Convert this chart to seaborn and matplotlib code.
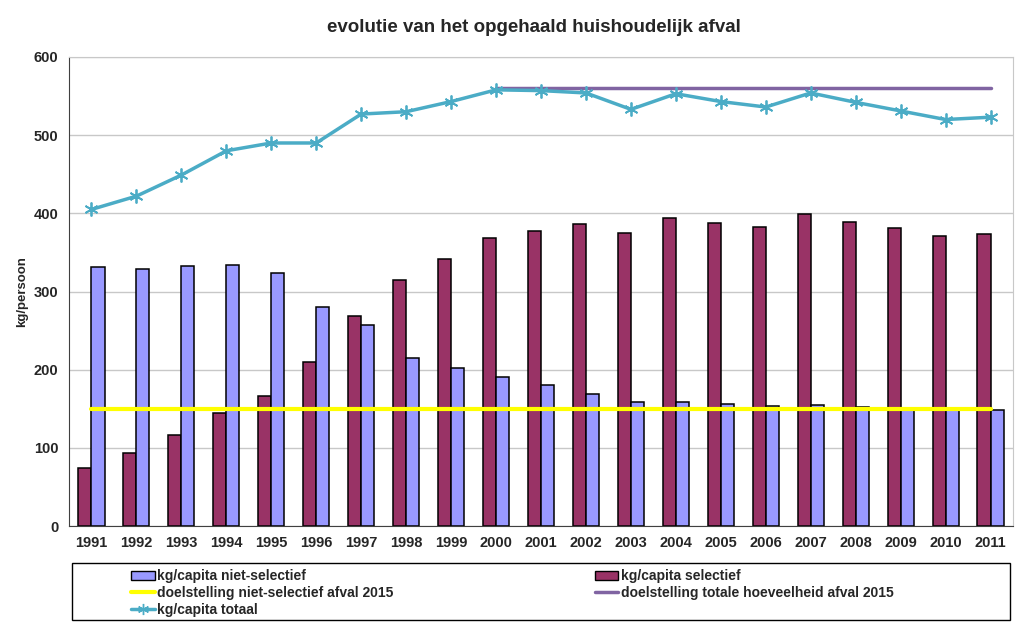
import numpy as np
import pandas as pd
import matplotlib
matplotlib.use("Agg")
import matplotlib.pyplot as plt
import seaborn as sns
from matplotlib.patches import Rectangle, Patch
from matplotlib.lines import Line2D

# waarden (kg per persoon)
jaren = ["1991", "1992", "1993", "1994", "1995", "1996", "1997", "1998", "1999", "2000", "2001",
         "2002", "2003", "2004", "2005", "2006", "2007", "2008", "2009", "2010", "2011"]
selectief = [74, 93, 116, 145, 166, 210, 269, 315, 341, 368, 377,
             386, 375, 394, 388, 383, 399, 389, 381, 371, 374]
niet_selectief = [331, 329, 333, 334, 324, 280, 257, 215, 202, 191, 180,
                  169, 159, 158, 156, 153, 155, 152, 149, 149, 149]
totaal = [405, 422, 449, 480, 490, 490, 527, 530, 543, 558, 557,
          554, 533, 553, 543, 536, 554, 542, 531, 520, 523]
doel_niet_selectief = [150] * len(jaren)
doel_totaal_jaren = ["2000", "2001", "2002", "2003", "2004", "2005",
                     "2006", "2007", "2008", "2009", "2010", "2011"]
doel_totaal = [560] * len(doel_totaal_jaren)

lbl_niet = "kg/capita niet-selectief"
lbl_sel = "kg/capita selectief"
lbl_doel_niet = "doelstelling niet-selectief afval 2015"
lbl_doel_tot = "doelstelling totale hoeveelheid afval 2015"
lbl_tot = "kg/capita totaal"

kl_sel = "#993366"
kl_niet = "#9999FF"
kl_geel = "#FFFF00"
kl_paars = "#8064A2"
kl_tot = "#4BACC6"

df = pd.DataFrame({"jaar": jaren * 2,
                   "kg": selectief + niet_selectief,
                   "soort": [lbl_sel] * len(jaren) + [lbl_niet] * len(jaren)})

sns.set_style("white")
plt.rcParams["font.family"] = ["Liberation Sans", "DejaVu Sans"]

fig = plt.figure(figsize=(10.24, 6.25), dpi=100)
ax = fig.add_axes([69 / 1024, 1 - 526 / 625, (1013 - 69) / 1024, (526 - 57) / 625])

sns.barplot(data=df, x="jaar", y="kg", hue="soort", hue_order=[lbl_sel, lbl_niet],
            palette=[kl_sel, kl_niet], saturation=1, width=0.58, edgecolor="black",
            linewidth=1.1, legend=False, ax=ax)

pos = np.arange(len(jaren))
pos_doel = np.array([jaren.index(j) for j in doel_totaal_jaren])
sns.lineplot(x=pos, y=doel_niet_selectief, color=kl_geel, linewidth=3, ax=ax)
sns.lineplot(x=pos_doel, y=doel_totaal, color=kl_paars, linewidth=2.5, ax=ax)
sns.lineplot(x=pos, y=totaal, color=kl_tot, linewidth=2.5, marker=(6, 2, 0),
             markersize=10, markeredgecolor=kl_tot, markeredgewidth=1.3, ax=ax)

ax.set_xlim(-0.5, len(jaren) - 0.5)
ax.set_ylim(0, 600)
ax.set_yticks(range(0, 601, 100))
ax.yaxis.grid(True, color="#C8C8C8", linewidth=1)
ax.set_axisbelow(True)

ax.set_xticks(pos)
ax.set_xticklabels(jaren, fontsize=10.5, fontweight="bold")
ax.set_xticks(np.arange(len(jaren) + 1) - 0.5, minor=True)
ax.tick_params(axis="x", which="major", length=0, pad=7)
ax.tick_params(axis="x", which="minor", length=4, direction="out", color="#404040")
ax.tick_params(axis="y", length=4, direction="out", color="#404040", labelsize=10.5)
for t in ax.get_yticklabels():
    t.set_fontweight("bold")

ax.set_xlabel("")
ax.set_ylabel("kg/persoon", fontsize=9.5, fontweight="bold", labelpad=4)
for s in ["left", "bottom"]:
    ax.spines[s].set_color("#404040")
for s in ["top", "right"]:
    ax.spines[s].set_color("#C8C8C8")

fig.text(0.521, 1 - 27 / 625, "evolutie van het opgehaald huishoudelijk afval",
         ha="center", va="center", fontsize=13.5, fontweight="bold")

# legenda
handles = [Patch(facecolor=kl_niet, edgecolor="black"),
           Line2D([], [], color=kl_geel, linewidth=3),
           Line2D([], [], color=kl_tot, linewidth=2.5, marker=(6, 2, 0), markersize=8,
                  markeredgecolor=kl_tot),
           Patch(facecolor=kl_sel, edgecolor="black"),
           Line2D([], [], color=kl_paars, linewidth=2.5)]
labels = [lbl_niet, lbl_doel_niet, lbl_tot, lbl_sel, lbl_doel_tot]
fig.add_artist(Rectangle((72 / 1024, 5 / 625), (1010 - 72) / 1024, 57 / 625,
                         transform=fig.transFigure, facecolor="white",
                         edgecolor="black", linewidth=1))
fig.legend(handles, labels, ncol=2, loc="upper left",
           bbox_to_anchor=(130 / 1024, 1 - 568 / 625), frameon=False,
           prop={"size": 10, "weight": "bold"},
           handlelength=1.7, handletextpad=0.15, labelspacing=0.2,
           columnspacing=14.5, borderaxespad=0, borderpad=0.1)

fig.savefig("out.png", dpi=100)
